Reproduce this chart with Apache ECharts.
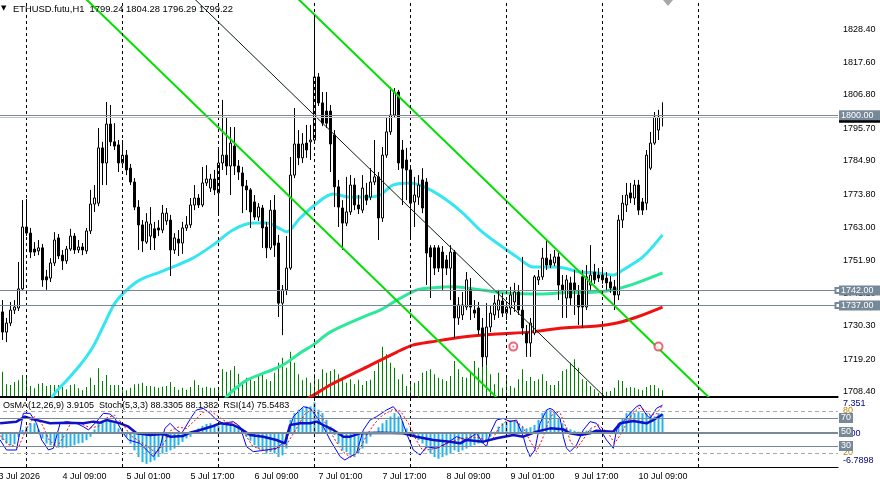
<!DOCTYPE html>
<html>
<head>
<meta charset="utf-8">
<style>
html,body{margin:0;padding:0;background:#fff}
#main{width:880px;height:486px}
</style>
<script src="https://cdn.jsdelivr.net/npm/echarts@6.0.0/dist/echarts.min.js"></script>
</head>
<body>
<div id="main"></div>
<script>
// H1 bars, 3 Jul 17:00 .. 10 Jul 15:00 : [open, close, low, high]
var candles = [
[1733.9,1730.6,1727.2,1737.2],[1734.9,1728.2,1725.6,1738.8],[1728.2,1731.2,1724.9,1732.9],[1731.2,1735.5,1730.2,1738.2],
[1735.5,1736.5,1734.2,1738.8],[1736.2,1742.5,1735.2,1751.4],[1742.5,1763.0,1741.8,1771.9],[1763.0,1761.0,1760.0,1772.3],
[1761.0,1754.7,1752.7,1762.7],[1755.7,1754.7,1753.4,1758.0],[1755.1,1756.1,1753.7,1758.7],[1756.1,1745.5,1743.2,1757.4],
[1746.5,1745.5,1742.2,1748.8],[1746.1,1751.1,1744.8,1752.7],[1751.1,1758.7,1750.1,1761.3],[1759.4,1753.4,1752.4,1760.7],
[1753.7,1751.8,1748.8,1755.4],[1751.8,1755.7,1750.8,1756.7],[1755.7,1760.0,1755.1,1762.4],[1760.0,1755.4,1754.1,1761.0],
[1755.4,1756.4,1754.4,1758.7],[1756.4,1755.4,1753.7,1757.7],[1755.1,1761.7,1754.1,1762.7],[1761.7,1770.6,1760.7,1775.3],
[1770.6,1772.6,1768.0,1776.9],[1770.9,1789.2,1769.9,1795.8],[1789.2,1784.2,1776.9,1791.2],[1784.2,1797.1,1776.9,1804.4],
[1797.1,1791.2,1789.8,1803.4],[1791.2,1789.8,1788.5,1797.4],[1790.2,1784.2,1781.2,1791.8],[1784.2,1786.8,1782.9,1791.8],
[1786.8,1781.9,1780.2,1788.5],[1782.5,1777.9,1776.9,1783.9],[1777.9,1769.6,1768.6,1779.2],[1769.6,1763.7,1755.4,1771.9],
[1763.7,1758.4,1754.7,1765.3],[1758.0,1764.7,1757.4,1767.6],[1760.0,1764.0,1755.4,1769.6],[1762.4,1759.4,1755.4,1764.7],
[1762.7,1762.0,1760.0,1765.3],[1762.0,1767.6,1761.0,1770.3],[1765.0,1767.6,1763.7,1769.3],[1765.3,1755.4,1746.8,1767.0],
[1755.4,1759.4,1754.1,1761.0],[1759.0,1757.7,1753.4,1762.0],[1757.7,1762.7,1754.1,1764.7],[1762.7,1763.7,1761.7,1766.6],
[1763.7,1770.3,1762.7,1772.6],[1770.3,1772.6,1768.6,1776.9],[1772.6,1770.3,1769.3,1773.9],[1770.3,1777.6,1769.6,1782.9],
[1777.6,1778.9,1776.6,1783.5],[1775.9,1778.9,1774.6,1780.6],[1778.9,1775.3,1773.6,1781.9],[1774.3,1784.2,1767.6,1788.5],
[1784.2,1786.8,1781.9,1805.1],[1786.8,1783.2,1780.2,1799.4],[1783.2,1790.8,1773.6,1796.1],[1789.8,1783.2,1780.2,1796.1],
[1783.2,1781.2,1778.6,1785.2],[1780.9,1776.6,1767.6,1782.9],[1776.6,1775.3,1768.6,1778.6],[1775.3,1768.0,1762.7,1775.9],
[1771.3,1766.3,1765.3,1773.6],[1766.3,1769.6,1765.0,1770.9],[1769.3,1762.7,1756.1,1770.3],[1763.0,1756.1,1752.7,1764.7],
[1756.1,1768.6,1755.4,1771.9],[1768.6,1757.0,1753.1,1773.6],[1757.7,1737.8,1733.2,1760.4],[1737.8,1742.2,1727.2,1743.8],
[1742.2,1749.4,1740.5,1760.0],[1749.4,1780.2,1748.8,1786.2],[1780.2,1790.5,1779.2,1802.4],[1790.5,1785.9,1783.5,1795.1],
[1785.9,1790.5,1784.2,1794.1],[1790.8,1788.5,1785.9,1796.8],[1791.2,1791.8,1785.2,1796.8],[1791.8,1812.7,1791.2,1833.2],
[1812.7,1804.1,1803.1,1814.0],[1804.1,1797.4,1796.4,1807.7],[1801.4,1797.4,1795.8,1807.7],[1801.4,1790.5,1781.2,1803.4],
[1793.5,1776.3,1769.6,1795.1],[1776.3,1769.6,1763.0,1778.6],[1769.3,1764.3,1755.4,1771.9],[1764.3,1768.0,1763.3,1779.6],
[1768.0,1776.9,1767.0,1780.2],[1776.9,1770.3,1768.6,1779.2],[1770.3,1769.0,1767.3,1773.6],[1768.6,1775.9,1767.6,1780.2],
[1773.6,1771.9,1770.3,1777.6],[1772.9,1777.9,1771.9,1782.5],[1777.9,1779.6,1776.9,1791.8],[1779.6,1766.0,1758.7,1781.2],
[1766.0,1786.8,1764.7,1789.5],[1786.8,1794.5,1785.9,1799.4],[1794.5,1800.1,1793.5,1809.4],[1800.1,1807.7,1799.1,1809.0],
[1807.7,1784.2,1781.9,1808.4],[1788.5,1782.5,1770.3,1791.8],[1785.2,1781.9,1771.9,1789.2],[1781.9,1770.9,1758.7,1783.5],
[1771.3,1773.6,1763.0,1779.6],[1772.9,1776.9,1770.3,1780.2],[1778.6,1769.3,1767.6,1782.5],[1777.9,1754.4,1743.8,1779.2],
[1756.1,1753.1,1739.5,1757.0],[1756.1,1749.4,1747.1,1757.0],[1756.1,1749.4,1748.1,1757.0],[1754.7,1749.4,1742.2,1756.7],
[1752.1,1749.4,1747.1,1753.7],[1749.4,1754.7,1738.8,1757.0],[1754.7,1732.9,1726.3,1755.4],[1732.9,1737.2,1730.6,1739.8],
[1733.9,1737.2,1732.2,1741.5],[1736.5,1745.5,1735.5,1748.1],[1742.2,1736.5,1732.2,1746.1],[1735.5,1734.5,1732.9,1738.8],
[1736.2,1728.9,1727.2,1738.2],[1729.6,1720.0,1716.7,1732.9],[1720.0,1729.9,1717.3,1737.8],[1729.9,1734.5,1728.2,1737.2],
[1733.9,1737.8,1732.2,1740.5],[1735.5,1738.8,1732.9,1742.2],[1738.5,1734.5,1733.2,1741.2],[1734.5,1736.5,1732.2,1738.5],
[1736.2,1740.5,1733.9,1743.2],[1738.2,1741.5,1734.9,1744.5],[1741.5,1735.5,1733.9,1743.8],[1735.5,1729.6,1727.2,1753.1],
[1727.9,1724.6,1720.0,1730.6],[1724.6,1731.2,1720.0,1732.9],[1727.9,1746.5,1727.2,1747.1],[1745.5,1746.5,1743.8,1748.8],
[1746.5,1752.7,1745.5,1756.1],[1752.7,1750.4,1748.8,1758.7],[1752.1,1750.4,1749.4,1754.1],[1751.1,1753.1,1750.1,1755.4],
[1753.1,1743.8,1738.8,1754.7],[1743.8,1742.2,1732.9,1747.1],[1739.5,1745.5,1732.9,1747.1],[1744.5,1739.5,1737.2,1746.5],
[1744.5,1742.2,1733.9,1748.8],[1740.5,1736.5,1730.6,1743.8],[1746.5,1736.5,1729.6,1748.8],[1736.5,1746.5,1735.5,1750.4],
[1743.8,1747.1,1742.2,1757.0],[1748.1,1745.5,1744.2,1750.8],[1747.1,1746.1,1744.8,1749.4],[1747.1,1745.5,1744.2,1749.4],
[1746.1,1744.5,1742.2,1748.1],[1744.8,1742.8,1741.2,1746.8],[1743.2,1740.5,1735.5,1745.5],[1740.5,1765.3,1738.8,1767.0],
[1765.3,1770.9,1762.7,1773.6],[1770.3,1773.6,1768.0,1777.6],[1774.3,1772.6,1770.9,1777.6],[1772.6,1776.9,1770.3,1778.6],
[1776.9,1768.6,1767.0,1778.6],[1771.3,1768.6,1767.0,1772.6],[1770.9,1786.8,1768.6,1788.5],[1782.5,1790.8,1781.9,1794.5],
[1790.8,1799.4,1790.2,1801.1],[1795.1,1799.4,1791.8,1801.8],[1799.24,1799.22,1796.29,1804.28]
];
var volumes = [
1500,2430,1170,1100,1400,1570,2100,2100,1000,770,1230,1300,1000,1100,1100,1100,900,670,1100,1170,
770,570,900,1830,1100,2770,1500,2100,1100,1100,1100,570,570,830,1170,1230,1330,1000,1000,930,
830,930,1000,1400,900,630,830,630,900,1570,1100,830,930,830,830,670,2670,2430,2570,3000,
2230,1400,1830,1670,1500,2170,2170,1670,1500,2330,3330,3830,2830,4430,3330,2170,1570,1830,1330,2230,
1670,2670,2330,2500,2670,2170,1830,1330,1670,1170,1630,1100,1500,1630,2500,3330,4930,4170,3330,2830,
1670,2170,1000,1500,1330,1500,2330,2500,2670,2170,1830,1670,1500,2000,3500,2670,1900,1830,2500,3500,
2830,4670,3830,2170,1170,2330,830,2000,1000,830,1670,2670,1500,1900,1500,1670,2170,1500,1100,1100,
1500,2500,2670,3330,3670,2830,1670,1500,1000,670,330,670,430,500,830,1570,1500,830,900,830,
670,570,900,1100,1100,770,570
];
var osma = [
-1.37,-1.37,-2.05,-2.39,-2.19,-0.68,0.68,1.37,2.05,2.05,0.82,-1.02,-2.05,-2.39,-2.6,-2.87,-2.87,-2.87,-2.73,-2.39,
-2.05,-1.91,-1.37,-0.68,0.82,2.05,2.39,3.07,2.73,2.05,1.02,0.34,-0.68,-2.05,-3.42,-4.78,-5.81,-6.15,-5.81,-5.46,
-4.78,-4.1,-3.76,-3.42,-3.07,-2.39,-1.71,-1.02,-0.68,0.34,1.02,1.5,1.91,2.05,1.71,1.5,1.71,2.05,2.05,1.71,
1.23,0.34,-0.68,-1.5,-2.39,-3.07,-3.42,-4.1,-3.76,-4.1,-4.78,-4.44,-3.07,2.73,4.1,4.78,5.12,5.46,5.46,6.28,
4.78,4.1,2.73,1.37,-0.34,-2.05,-3.42,-3.76,-4.44,-4.78,-4.1,-3.07,-2.05,-0.68,0.34,1.23,2.05,2.73,3.42,4.1,
3.42,2.39,1.02,0.34,-0.34,-1.37,-2.05,-3.07,-4.1,-4.78,-5.12,-4.78,-4.44,-4.1,-3.42,-3.76,-3.42,-3.07,-2.73,-2.39,
-2.05,-2.05,-1.71,-0.68,0.34,1.37,2.05,2.39,2.73,2.6,2.05,1.37,1.02,1.23,1.71,2.73,4.1,4.64,4.78,4.23,
3.07,2.05,1.23,0.82,0.55,0.34,0.34,0.55,0.82,0.68,0.34,0,0.14,0.34,0.34,2.05,3.07,4.1,4.44,4.1,
4.44,4.1,4.1,3.76,3.42,4.1,3.91
];
// [bar, value] samples
var stochMain = [
[0.4,38.6],[2,24.3],[4.5,24.3],[6.2,76.7],[7.9,76.7],[9.5,62.4],[10.8,38.6],[12.5,24.3],[13.7,26.7],[15.4,62.4],
[17,64.8],[19.5,62.4],[21.2,57.6],[22.5,52.9],[24.5,64.8],[26.2,76.7],[27.9,75.7],[29.1,69.5],[31.2,48.1],[32.5,38.6],
[35.4,33.8],[37,24.3],[38.7,14.8],[40.4,29],[41.6,55.2],[42.9,62.4],[44.5,52.9],[45.8,48.1],[48.3,71.9],[49.5,81.4],
[51.2,83.8],[52.9,76.7],[54.5,67.1],[56.2,62.4],[58.7,64.8],[60.4,57.6],[62,29],[63.7,21.9],[67,24.3],[69.5,26.7],
[72,38.6],[73.7,71.9],[76.2,86.2],[77.9,83.8],[79.5,71.9],[81.2,57.6],[82.9,38.6],[85.4,14.8],[86.6,10],[87.9,14.8],
[89.5,19.5],[91.2,52.9],[92.9,67.1],[94.5,71.9],[97,81.4],[98.7,86.2],[100.4,74.3],[102,48.1],[103.7,24.3],[105.4,17.1],
[107,29],[109.5,26.7],[112,33.8],[114.5,43.3],[117,38.6],[119.5,48.1],[121.2,33.8],[122,29],[122.9,48.1],[124.5,67.1],
[126.2,69.5],[127.9,64.8],[129.5,67.1],[131.2,43.3],[132,26.7],[132.9,14.8],[134.1,24.3],[135.4,62.4],[137,81.4],[137.9,83.8],
[138.7,81.4],[140.4,69.5],[141.2,43.3],[142,26.7],[142.9,21.9],[144.5,31.4],[146.2,52.9],[147.9,64.8],[149.5,62.4],[152,38.6],
[153.7,26.7],[154.5,52.9],[156.2,64.8],[157.9,76.7],[159.5,86.2],[160.4,88.6],[162,74.3],[162.9,69.5],[164.5,83.8],[166,88.33]
];
var stochSignal = [
[0.4,45],[2.5,32],[5,28],[7,55],[9,72],[11,60],[12.5,40],[14.5,28],[16.5,45],[18,62],[20.5,62],[23,56],[25,58],[27,70],
[29,74],[31,62],[33,45],[35.5,36],[37.5,28],[39.5,20],[41.5,35],[43,52],[45,57],[47,55],[49,66],[51,78],[53,80],[55,72],
[57,64],[59.5,62],[61.5,48],[63.5,30],[66,24],[69,25],[72,32],[74.5,55],[76.5,75],[78.5,83],[80.5,74],[82,60],[84,40],
[86,22],[88,14],[90,22],[92,45],[94,62],[96,74],[98.5,82],[100.5,80],[102.5,62],[104.5,38],[106,24],[108,25],[110,28],
[112.5,34],[115,40],[117.5,42],[120,42],[122,38],[123.5,40],[125,55],[127,66],[129,66],[131,58],[133,36],[134.5,22],
[136,40],[137.5,65],[139,80],[140.5,76],[141.8,58],[143,36],[144.5,26],[146,38],[148,55],[150,60],[152.5,48],[154,34],
[155.5,46],[157,62],[158.5,76],[160,84],[161.5,82],[163,74],[164.5,76],[166,88.14]
];
var rsi = [
[0.4,62.4],[4.5,64.8],[6.6,71.9],[8.7,68.1],[11.2,64.8],[12.9,62.4],[17,63.3],[21.2,62.4],[23.7,64.8],[25.4,63.3],
[27,67.1],[28.7,64.8],[30.4,62.4],[32.5,57.6],[34.5,48.1],[37.9,45.7],[41.2,47.1],[42.9,43.3],[46.2,44.3],[47.9,49],
[50.4,52.9],[53.7,58.6],[55.4,62.4],[58.7,60],[60.4,55.2],[62.9,45.7],[66.2,43.3],[69.5,38.6],[71.6,33.8],[72.9,60],
[75.4,62.4],[77.9,62.4],[79.5,64.8],[81.2,60],[83.7,52.9],[86.2,43.3],[87.9,43.3],[90.4,48.1],[95.4,49],[101.2,48.1],
[104.5,43.3],[108.7,38.6],[112.9,36.2],[115.4,33.8],[117,38.6],[121.2,36.2],[124.5,41],[128.7,45.7],[131.2,43.3],[134.5,50.5],
[137.9,55.2],[141.2,53.8],[142.9,48.1],[145.4,45.7],[147.9,48.1],[149.5,51.9],[153.7,50.5],[155.4,62.4],[158.7,65.7],[162,62.4],
[163.7,67.1],[165.4,72.9],[166,75.55]
];
var maFast = [
[11.6,1702.4],[14.1,1708.0],[17.1,1712.3],[20.4,1717.3],[23.6,1723.3],[26.1,1729.9],[29.1,1737.8],[32.1,1742.2],[35.4,1745.5],
[40.4,1748.1],[43.6,1749.8],[48.6,1752.7],[53.6,1757.0],[58.6,1762.0],[63.6,1764.3],[67.1,1764.3],[69.6,1763.0],[72.1,1761.4],
[75.4,1766.0],[79.6,1770.9],[83.6,1773.9],[87.9,1772.9],[92.1,1772.9],[95.4,1773.6],[98.6,1776.9],[102.9,1777.6],[107.1,1775.9],
[112.1,1771.9],[116.1,1767.6],[120.4,1762.0],[124.6,1757.7],[129.6,1753.1],[133.6,1749.8],[139.6,1749.8],[145.4,1748.1],
[149.6,1747.8],[153.6,1747.1],[156.1,1748.8],[161.1,1753.1],[166,1760.4]
];
var maMid = [
[55.4,1704.1],[57.9,1708.0],[62.1,1712.3],[67.1,1715.0],[71.1,1717.3],[75.4,1721.3],[78.6,1723.9],[82.9,1728.2],[91.1,1733.2],
[95.4,1735.5],[99.6,1738.8],[104.6,1742.2],[107.9,1742.8],[113.6,1743.2],[120.4,1742.2],[126.1,1741.2],[134.6,1740.8],
[141.1,1741.2],[149.6,1741.5],[154.6,1742.5],[159.6,1744.5],[166,1747.8]
];
var maSlow = [
[76.6,1705.7],[79.6,1708.0],[82.9,1710.7],[91.1,1716.0],[99.6,1721.6],[103.6,1723.9],[107.9,1724.9],[116.1,1726.6],
[124.6,1727.6],[132.9,1728.2],[141.1,1729.6],[149.6,1730.2],[154.6,1731.2],[159.6,1733.2],[166,1736.5]
];
var channelLow = [[15, 1847.3], [130, 1699.55]];
var channelMid = [[40, 1850.1], [160, 1695.9]];
var channelHigh = [[70, 1844.85], [185, 1697.1]];
var alertMarks = [[128.7, 1723.4], [165, 1723.4]];
var alertDots = [[128.7, 1723.4]];
var daySeparators = [7, 31, 55, 79, 103, 127, 151, 175];
var timeTickBars = [0, 16, 32, 48, 64, 80, 96, 112, 128, 144, 160];
var timeLabels = ['3 Jul 2026', '4 Jul 09:00', '5 Jul 01:00', '5 Jul 17:00', '6 Jul 09:00', '7 Jul 01:00',
  '7 Jul 17:00', '8 Jul 09:00', '9 Jul 01:00', '9 Jul 17:00', '10 Jul 09:00'];
var priceTicks = [1828.4, 1817.6, 1806.8, 1795.7, 1784.9, 1773.8, 1763.0, 1751.9, 1741.1, 1730.3, 1719.2, 1708.4];
var priceLevels = [1742, 1737];
var roundLevel = 1800;
var bidPrice = 1799.22;
var osmaRange = [-6.7898, 7.351];
var boxLevels = [70, 50, 30];
var dashLevels = [80, 20];

var FONT = 'Liberation Sans';
var chart = echarts.init(document.getElementById('main'), null, { renderer: 'canvas' });

// 4 px per bar; the plot starts a little left of the window so bar 0 sits at x = -1.5
var xBase = { type: 'value', min: -0.625, max: 209.875, axisLabel: { show: false }, axisTick: { show: false }, splitLine: { show: false } };
var hiddenY = { type: 'value', show: false, axisLine: { show: false }, axisTick: { show: false }, axisLabel: { show: false }, splitLine: { show: false } };
var sepLine = {
  silent: true, symbol: ['none', 'none'], label: { show: false },
  lineStyle: { color: '#000', width: 1, type: [3, 3] },
  data: daySeparators.map(function (b) { return { xAxis: b }; })
};
function boxLabel(bg, fg, padR) {
  return { show: true, position: 'end', distance: 1, color: fg, backgroundColor: bg, fontSize: 9, fontFamily: FONT,
    padding: [1, padR, 0, 2], lineHeight: 9 };
}

var option = {
  animation: false,
  backgroundColor: '#fff',
  textStyle: { fontFamily: FONT, fontSize: 9, color: '#000' },
  title: [
    { text: '▼', left: 1, top: 5, padding: 0, textStyle: { fontFamily: 'DejaVu Sans', fontSize: 7, fontWeight: 'normal', color: '#000' } },
    { text: 'ETHUSD.futu,H1  1799.24 1804.28 1796.29 1799.22', left: 13, top: 5, padding: 0,
      textStyle: { fontFamily: FONT, fontSize: 9.4, fontWeight: 'normal', color: '#000' } },
    { text: 'OsMA(12,26,9) 3.9105  Stoch(5,3,3) 88.3305 88.1382  RSI(14) 75.5483', left: 3, top: 401, padding: 0,
      textStyle: { fontFamily: FONT, fontSize: 9, fontWeight: 'normal', color: '#000' } }
  ],
  grid: [
    { left: -4, top: 0, width: 842, height: 396, outerBoundsMode: 'none' },
    { left: -4, top: 397, width: 842, height: 70, outerBoundsMode: 'none' }
  ],
  xAxis: [
    Object.assign({ gridIndex: 0, axisLine: { show: true, onZero: false, lineStyle: { color: '#000', width: 1 } } }, xBase),
    Object.assign({}, xBase, { gridIndex: 1, position: 'bottom',
      axisLine: { show: true, onZero: false, lineStyle: { color: '#000', width: 1 } },
      axisLabel: { show: true, customValues: timeTickBars, align: 'left', margin: 5, color: '#000', fontSize: 9,
        fontFamily: FONT, hideOverlap: false, showMinLabel: true,
        formatter: function (v) { var k = timeTickBars.indexOf(Math.round(v)); return k >= 0 ? timeLabels[k] : ''; } } }),
    Object.assign({}, xBase, { gridIndex: 1, position: 'top',
      axisLine: { show: true, onZero: false, lineStyle: { color: '#000', width: 1 } } })
  ],
  yAxis: [
    { gridIndex: 0, type: 'value', position: 'right', min: 1707.05, max: 1838.17,
      axisLine: { show: true, lineStyle: { color: '#000' } },
      axisTick: { show: false },
      axisLabel: { customValues: priceTicks, margin: 5, color: '#000', fontSize: 9, fontFamily: FONT,
        formatter: function (v) { return v.toFixed(2); } },
      splitLine: { show: false } },
    Object.assign({ gridIndex: 0, position: 'right', min: 0, max: 39600 }, hiddenY),
    { gridIndex: 1, type: 'value', position: 'right', min: 0, max: 100,
      axisLine: { show: true, lineStyle: { color: '#000' } }, axisTick: { show: false },
      axisLabel: { show: false }, splitLine: { show: false } },
    { gridIndex: 1, type: 'value', position: 'right', min: osmaRange[0], max: osmaRange[1],
      axisLine: { show: false }, axisTick: { show: false }, splitLine: { show: false },
      axisLabel: { customValues: [osmaRange[1], osmaRange[0]], margin: 5, fontSize: 9, fontFamily: FONT, color: '#000080',
        formatter: function (v) { return v > 0 ? '{t|' + v + '}' : '{b|' + v + '}'; },
        rich: { t: { padding: [14, 0, 0, 0], fontSize: 9, color: '#000080' }, b: { padding: [0, 0, 12, 0], fontSize: 9, color: '#000080' } } } }
  ],
  series: [
    { name: 'Volumes', type: 'bar', xAxisIndex: 0, yAxisIndex: 1, barWidth: 1, z: 1,
      itemStyle: { color: '#008000' },
      data: volumes.map(function (v, i) { return [i, v]; }),
      markLine: sepLine },
    { name: 'MA slow', type: 'line', xAxisIndex: 0, yAxisIndex: 0, data: maSlow, showSymbol: false, smooth: 0.3, z: 2,
      lineStyle: { color: '#F01010', width: 3 } },
    { name: 'MA mid', type: 'line', xAxisIndex: 0, yAxisIndex: 0, data: maMid, showSymbol: false, smooth: 0.3, z: 2,
      lineStyle: { color: '#2CE89A', width: 3 },
      markLine: { silent: true, symbol: ['emptyRect', 'emptyRect'], symbolSize: 5,
        lineStyle: { color: '#778899', width: 1, type: 'solid' },
        label: Object.assign(boxLabel('#778899', '#fff', 7), { formatter: function (p) { return p.value.toFixed(2); } }),
        data: priceLevels.map(function (v) { return { yAxis: v }; }) } },
    { name: 'MA fast', type: 'line', xAxisIndex: 0, yAxisIndex: 0, data: maFast, showSymbol: false, smooth: 0.3, z: 2,
      lineStyle: { color: '#33E6F0', width: 3 },
      markLine: { silent: true, symbol: ['none', 'none'],
        data: [
          { yAxis: bidPrice, lineStyle: { color: '#C0C0C0', width: 1, type: 'solid' },
            label: Object.assign(boxLabel('#000', '#fff', 7), { formatter: bidPrice.toFixed(2) }) },
          { yAxis: roundLevel, lineStyle: { color: '#778899', width: 1, type: 'solid' },
            label: Object.assign(boxLabel('#778899', '#fff', 7), { formatter: roundLevel.toFixed(2) }) }
        ] } },
    { name: 'ETHUSD', type: 'candlestick', xAxisIndex: 0, yAxisIndex: 0, barWidth: 3, z: 3,
      dimensions: ['t', 'open', 'close', 'lowest', 'highest'],
      encode: { x: 't', y: ['open', 'close', 'lowest', 'highest'] },
      itemStyle: { color: '#fff', color0: '#000', borderColor: '#000', borderColor0: '#000', borderColorDoji: '#000', borderWidth: 1 },
      data: candles.map(function (c, i) { return [i, c[0], c[1], c[2], c[3]]; }) },
    { name: 'Channel low', type: 'line', xAxisIndex: 0, yAxisIndex: 0, data: channelLow, showSymbol: false, z: 4,
      lineStyle: { color: '#00E000', width: 2 } },
    { name: 'Channel high', type: 'line', xAxisIndex: 0, yAxisIndex: 0, data: channelHigh, showSymbol: false, z: 4,
      lineStyle: { color: '#00E000', width: 2 } },
    { name: 'Channel mid', type: 'line', xAxisIndex: 0, yAxisIndex: 0, data: channelMid, showSymbol: false, z: 4,
      lineStyle: { color: '#0A200A', width: 1 } },
    { name: 'Alerts', type: 'scatter', xAxisIndex: 0, yAxisIndex: 0, data: alertMarks, symbol: 'emptyCircle', symbolSize: 8, z: 5,
      itemStyle: { color: '#E8405A', borderColor: '#E8405A', borderWidth: 1.2 } },
    { name: 'Alert dots', type: 'scatter', xAxisIndex: 0, yAxisIndex: 0, data: alertDots, symbol: 'circle', symbolSize: 2, z: 5,
      itemStyle: { color: '#E8405A' } },

    { name: 'OsMA', type: 'bar', xAxisIndex: 1, yAxisIndex: 3, barWidth: 2, z: 1,
      itemStyle: { color: '#22B4EE' },
      data: osma.map(function (v, i) { return [i, v]; }),
      markLine: { silent: true, symbol: ['none', 'none'],
        data: daySeparators.map(function (b) { return { xAxis: b, lineStyle: { color: '#000', width: 1, type: [3, 3] }, label: { show: false } }; })
          .concat([{ yAxis: 0, lineStyle: { color: '#778899', width: 1, type: 'solid' },
            label: { show: true, position: 'end', distance: 5, color: '#000080', fontSize: 9, fontFamily: FONT, formatter: '0.00' } }]) } },
    { name: 'Stoch main', type: 'line', xAxisIndex: 1, yAxisIndex: 2, data: stochMain, showSymbol: false, z: 3,
      lineStyle: { color: '#0000FF', width: 1 },
      markLine: { silent: true, symbol: ['none', 'none'],
        data: dashLevels.map(function (v) { return { yAxis: v, lineStyle: { color: '#A9A9A9', width: 1, type: [4, 3] },
          label: { show: true, position: 'end', distance: 5, color: '#B8860B', fontSize: 9, fontFamily: FONT, formatter: String(v) } }; }) } },
    { name: 'Stoch signal', type: 'line', xAxisIndex: 1, yAxisIndex: 2, data: stochSignal, showSymbol: false, z: 3,
      lineStyle: { color: '#FF0000', width: 1, type: [2, 2] } },
    { name: 'RSI', type: 'line', xAxisIndex: 1, yAxisIndex: 2, data: rsi, showSymbol: false, z: 4,
      lineStyle: { color: '#1010C8', width: 2.5 },
      markLine: { silent: true, symbol: ['none', 'none'],
        lineStyle: { color: '#778899', width: 1, type: 'solid' },
        label: Object.assign(boxLabel('#778899', '#fff', 2), { formatter: function (p) { return String(p.value); } }),
        data: boxLevels.map(function (v) { return { yAxis: v }; }) } }
  ],
  graphic: [
    { type: 'polygon', shape: { points: [[663, 0], [673, 0], [668, 6]] }, style: { fill: '#A8A8A8' }, z: 100 }
  ]
};
chart.setOption(option);
</script>
</body>
</html>
